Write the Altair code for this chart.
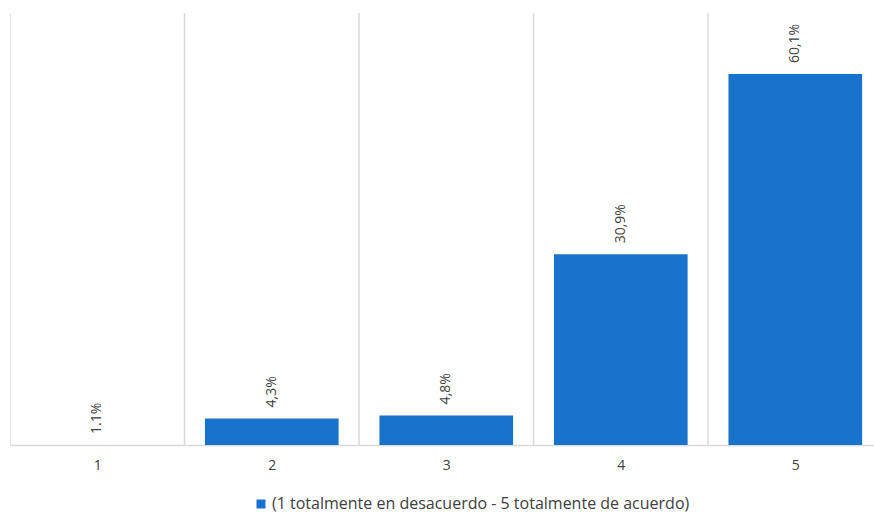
import altair as alt
import pandas as pd

categories = [1, 2, 3, 4, 5]
values = [0.0, 4.3, 4.8, 30.9, 60.1]
labels = ["1.1%", "4,3%", "4,8%", "30,9%", "60,1%"]
series_name = "(1 totalmente en desacuerdo - 5 totalmente de acuerdo)"

df = pd.DataFrame({"cat": categories, "val": values, "lab": labels, "serie": series_name})

W, H = 864, 432
BAR_COLOR = "#1873CC"
GRID = "#D9D9D9"
TXT = "#404040"

xscale = alt.Scale(domain=[0.5, 5.451], nice=False, zero=False)
yscale = alt.Scale(domain=[0, 70], nice=False)

xaxis = alt.Axis(
    values=categories,
    format="d",
    title=None,
    grid=False,
    ticks=False,
    domainColor=GRID,
    domainWidth=1.5,
    labelFont="Open Sans",
    labelFontSize=14,
    labelColor=TXT,
    labelPadding=13,
)

grid = alt.Chart(df).transform_calculate(b="datum.cat - 0.5").mark_rule(
    color=GRID, strokeWidth=1.5, clip=True
).encode(
    x=alt.X("b:Q", scale=xscale, axis=xaxis),
    y=alt.value(0),
    y2=alt.value(H),
)

bars = alt.Chart(df).transform_calculate(
    x0="datum.cat - 0.383", x1="datum.cat + 0.383"
).mark_bar(strokeWidth=0).encode(
    x=alt.X("x0:Q", scale=xscale, axis=xaxis),
    x2="x1:Q",
    y=alt.Y("val:Q", scale=yscale, axis=None),
    y2=alt.datum(0),
    color=alt.Color(
        "serie:N",
        scale=alt.Scale(range=[BAR_COLOR]),
        legend=alt.Legend(
            title=None,
            orient="none",
            legendX=243,
            legendY=483,
            padding=0,
            symbolType="square",
            symbolSize=81,
            symbolStrokeWidth=0,
            labelOffset=3,
            labelFont="Open Sans",
            labelFontSize=16,
            labelColor=TXT,
            labelLimit=1000,
        ),
    ),
)

text = alt.Chart(df).mark_text(
    angle=270, align="left", baseline="middle", dx=11,
    font="Open Sans", fontSize=14, color=TXT,
).encode(
    x=alt.X("cat:Q", scale=xscale, axis=xaxis),
    y=alt.Y("val:Q", scale=yscale, axis=None),
    text="lab:N",
)

chart = alt.layer(grid, bars, text).properties(
    width=W, height=H,
    background="white",
    autosize=alt.AutoSizeParams(type="none"),
    padding={"left": 10, "top": 13, "right": 0, "bottom": 68},
).configure_view(stroke=None)

chart.save("out.html", embed_options={"renderer": "svg", "actions": False})
